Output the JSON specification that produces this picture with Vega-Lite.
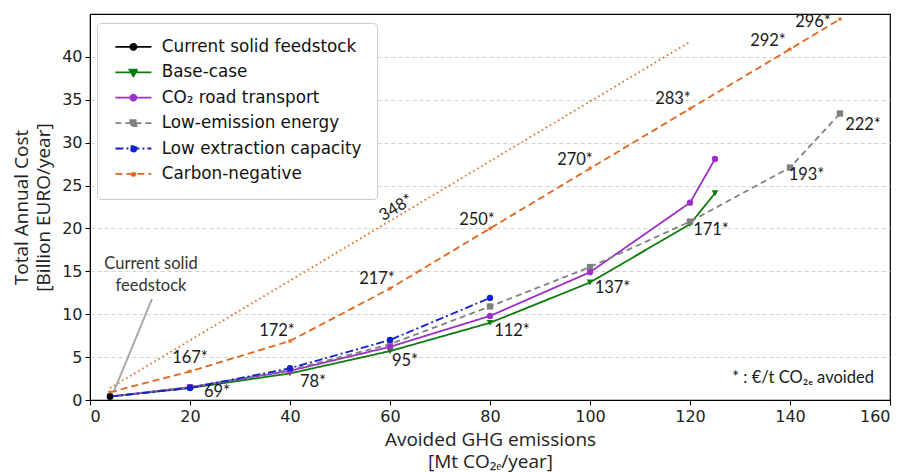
{
  "$schema": "https://vega.github.io/schema/vega-lite/v6.json",
  "width": 800,
  "height": 386,
  "autosize": {"type": "none"},
  "padding": {"left": 90, "top": 14, "right": 14, "bottom": 72},
  "background": "white",
  "config": {
    "view": {"stroke": "#000000", "strokeWidth": 1.2},
    "axis": {
      "labelFont": "DejaVu Sans",
      "labelFontSize": 16,
      "labelColor": "#222222",
      "titleFont": "Open Sans",
      "titleFontSize": 19,
      "titleFontWeight": "normal",
      "titleColor": "#222222",
      "titleLineHeight": 22,
      "tickColor": "#000000",
      "tickSize": 5,
      "domainColor": "#000000",
      "labelPadding": 3
    }
  },
  "data": {
    "values": [
      {"series": "Base-case", "x": 4, "y": 0.4},
      {"series": "Base-case", "x": 20, "y": 1.4},
      {"series": "Base-case", "x": 40, "y": 3.1},
      {"series": "Base-case", "x": 60, "y": 5.7},
      {"series": "Base-case", "x": 80, "y": 9.0},
      {"series": "Base-case", "x": 100, "y": 13.7},
      {"series": "Base-case", "x": 120, "y": 20.5},
      {"series": "Base-case", "x": 125, "y": 24.1},
      {"series": "CO₂ road transport", "x": 4, "y": 0.4},
      {"series": "CO₂ road transport", "x": 20, "y": 1.5},
      {"series": "CO₂ road transport", "x": 40, "y": 3.4},
      {"series": "CO₂ road transport", "x": 60, "y": 6.2},
      {"series": "CO₂ road transport", "x": 80, "y": 9.8},
      {"series": "CO₂ road transport", "x": 100, "y": 14.9},
      {"series": "CO₂ road transport", "x": 120, "y": 23.0},
      {"series": "CO₂ road transport", "x": 125, "y": 28.1},
      {"series": "Low-emission energy", "x": 4, "y": 0.4},
      {"series": "Low-emission energy", "x": 20, "y": 1.5},
      {"series": "Low-emission energy", "x": 40, "y": 3.5},
      {"series": "Low-emission energy", "x": 60, "y": 6.5},
      {"series": "Low-emission energy", "x": 80, "y": 10.9},
      {"series": "Low-emission energy", "x": 100, "y": 15.5},
      {"series": "Low-emission energy", "x": 120, "y": 20.8},
      {"series": "Low-emission energy", "x": 140, "y": 27.1},
      {"series": "Low-emission energy", "x": 150, "y": 33.4},
      {"series": "Low extraction capacity", "x": 4, "y": 0.4},
      {"series": "Low extraction capacity", "x": 20, "y": 1.4},
      {"series": "Low extraction capacity", "x": 40, "y": 3.7},
      {"series": "Low extraction capacity", "x": 60, "y": 7.0},
      {"series": "Low extraction capacity", "x": 80, "y": 11.9},
      {"series": "Carbon-negative", "x": 4, "y": 0.9},
      {"series": "Carbon-negative", "x": 20, "y": 3.34},
      {"series": "Carbon-negative", "x": 40, "y": 6.88},
      {"series": "Carbon-negative", "x": 60, "y": 13.0},
      {"series": "Carbon-negative", "x": 80, "y": 20.0},
      {"series": "Carbon-negative", "x": 100, "y": 27.0},
      {"series": "Carbon-negative", "x": 120, "y": 33.96},
      {"series": "Carbon-negative", "x": 140, "y": 40.9},
      {"series": "Carbon-negative", "x": 150, "y": 44.4},
      {"series": "Current solid feedstock", "x": 4, "y": 0.4}
    ]
  },
  "layer": [
    {
      "data": {"values": [{"x": 4, "y": 1.39}, {"x": 120, "y": 41.76}]},
      "mark": {"type": "line", "color": "#e2661a", "strokeWidth": 1.8, "strokeDash": [1.5, 3.2]},
      "encoding": {
        "x": {"field": "x", "type": "quantitative"},
        "y": {"field": "y", "type": "quantitative"}
      }
    },
    {
      "data": {"values": [{"x": 12.4, "y": 11.8, "x2": 4.7, "y2": 0.9}]},
      "mark": {"type": "rule", "color": "#aaaaaa", "strokeWidth": 2},
      "encoding": {
        "x": {"field": "x", "type": "quantitative"},
        "y": {"field": "y", "type": "quantitative"},
        "x2": {"field": "x2"},
        "y2": {"field": "y2"}
      }
    },
    {
      "mark": {"type": "line", "strokeWidth": 1.8},
      "encoding": {
        "x": {
          "field": "x", "type": "quantitative",
          "scale": {"domain": [0, 160], "nice": false},
          "axis": {"values": [0, 20, 40, 60, 80, 100, 120, 140, 160], "grid": false, "titlePadding": 6,
                   "title": ["Avoided GHG emissions", "[Mt CO₂ₑ/year]"]}
        },
        "y": {
          "field": "y", "type": "quantitative",
          "scale": {"domain": [0, 45], "nice": false},
          "axis": {"values": [0, 5, 10, 15, 20, 25, 30, 35, 40], "grid": true, "gridDash": [4, 3],
                   "gridColor": "#cccccc", "gridWidth": 0.9, "titlePadding": 8,
                   "title": ["Total Annual Cost", "[Billion EURO/year]"]}
        },
        "color": {
          "field": "series", "type": "nominal",
          "scale": {
            "domain": ["Current solid feedstock", "Base-case", "CO₂ road transport", "Low-emission energy", "Low extraction capacity", "Carbon-negative"],
            "range": ["#000000", "#0c7c0c", "#9b30c8", "#808080", "#1020d0", "#e2661a"]
          },
          "legend": {
            "title": null,
            "orient": "none",
            "legendX": 7,
            "legendY": 9,
            "padding": 15.5,
            "fillColor": "#ffffff",
            "strokeColor": "#cccccc",
            "cornerRadius": 4,
            "labelFont": "DejaVu Sans",
            "labelFontSize": 16.8,
            "labelColor": "#111111",
            "labelLimit": 400,
            "labelOffset": 20,
            "symbolOffset": 12.5,
            "symbolSize": 100,
            "symbolStrokeWidth": 1.8,
            "rowPadding": 7.4,
            "encode": {
              "symbols": {
                "update": {
                  "shape": {"signal": "datum.value === 'Base-case' ? 'M-3.6,0H3.6M-0.8,-0.55L0.8,-0.55L0,0.8Z' : datum.value === 'Low-emission energy' ? 'M-3.6,0H3.6M-0.6,-0.6H0.6V0.6H-0.6Z' : datum.value === 'Carbon-negative' ? 'M-3.6,0H3.6M0.4,0A0.4,0.4,0,1,1,-0.4,0A0.4,0.4,0,1,1,0.4,0Z' : 'M-3.6,0H3.6M0.6,0A0.6,0.6,0,1,1,-0.6,0A0.6,0.6,0,1,1,0.6,0Z'"},
                  "fill": {"signal": "scale('color', datum.value)"},
                  "size": {"value": 100}
                }
              }
            }
          }
        },
        "strokeDash": {
          "field": "series", "type": "nominal",
          "scale": {
            "domain": ["Current solid feedstock", "Base-case", "CO₂ road transport", "Low-emission energy", "Low extraction capacity", "Carbon-negative"],
            "range": [[1, 0], [1, 0], [1, 0], [6, 4], [8, 3, 2, 3], [7, 4]]
          }
        }
      }
    },
    {
      "transform": [{"filter": "datum.series === 'Base-case'"}],
      "mark": {"type": "point", "filled": true, "opacity": 1, "size": 45, "shape": "triangle-down"},
      "encoding": {
        "x": {"field": "x", "type": "quantitative"},
        "y": {"field": "y", "type": "quantitative"},
        "color": {"field": "series", "type": "nominal", "legend": null}
      }
    },
    {
      "transform": [{"filter": "datum.series === 'Low-emission energy'"}],
      "mark": {"type": "point", "filled": true, "opacity": 1, "size": 40, "shape": "square"},
      "encoding": {
        "x": {"field": "x", "type": "quantitative"},
        "y": {"field": "y", "type": "quantitative"},
        "color": {"field": "series", "type": "nominal", "legend": null}
      }
    },
    {
      "transform": [{"filter": "datum.series === 'Carbon-negative'"}],
      "mark": {"type": "point", "filled": true, "opacity": 1, "size": 35, "shape": "M0,-1L0.24,-0.33L0.95,-0.31L0.38,0.12L0.59,0.81L0,0.4L-0.59,0.81L-0.38,0.12L-0.95,-0.31L-0.24,-0.33Z"},
      "encoding": {
        "x": {"field": "x", "type": "quantitative"},
        "y": {"field": "y", "type": "quantitative"},
        "color": {"field": "series", "type": "nominal", "legend": null}
      }
    },
    {
      "transform": [{"filter": "datum.series === 'CO₂ road transport' || datum.series === 'Low extraction capacity' || datum.series === 'Current solid feedstock'"}],
      "mark": {"type": "point", "filled": true, "opacity": 1, "size": 40, "shape": "circle"},
      "encoding": {
        "x": {"field": "x", "type": "quantitative"},
        "y": {"field": "y", "type": "quantitative"},
        "color": {"field": "series", "type": "nominal", "legend": null}
      }
    },
    {
      "data": {
        "values": [
          {"x": 25.4, "y": 0.95, "t": "69*"},
          {"x": 44.6, "y": 2.1, "t": "78*"},
          {"x": 63, "y": 4.6, "t": "95*"},
          {"x": 84.4, "y": 8.0, "t": "112*"},
          {"x": 104.5, "y": 13.0, "t": "137*"},
          {"x": 124.2, "y": 19.8, "t": "171*"},
          {"x": 143.3, "y": 26.25, "t": "193*"},
          {"x": 154.6, "y": 32.1, "t": "222*"},
          {"x": 20, "y": 4.9, "t": "167*"},
          {"x": 37.4, "y": 8.1, "t": "172*"},
          {"x": 57.4, "y": 14.1, "t": "217*"},
          {"x": 77.4, "y": 21.0, "t": "250*"},
          {"x": 97, "y": 28.0, "t": "270*"},
          {"x": 116.6, "y": 35.1, "t": "283*"},
          {"x": 135.6, "y": 41.8, "t": "292*"},
          {"x": 144.6, "y": 44.1, "t": "296*"}
        ]
      },
      "mark": {"type": "text", "font": "Lato", "fontSize": 16.5, "color": "#1a1a1a", "align": "center", "baseline": "middle"},
      "encoding": {
        "x": {"field": "x", "type": "quantitative"},
        "y": {"field": "y", "type": "quantitative"},
        "text": {"field": "t"}
      }
    },
    {
      "data": {"values": [{"x": 61.2, "y": 22.4, "t": "348*"}]},
      "mark": {"type": "text", "font": "Lato", "fontSize": 16.5, "color": "#1a1a1a", "align": "center", "baseline": "middle", "angle": 329},
      "encoding": {
        "x": {"field": "x", "type": "quantitative"},
        "y": {"field": "y", "type": "quantitative"},
        "text": {"field": "t"}
      }
    },
    {
      "data": {"values": [{"x": 142.6, "y": 2.6, "t": "* : €/t CO₂ₑ avoided"}]},
      "mark": {"type": "text", "font": "Lato", "fontSize": 16.5, "color": "#1a1a1a", "align": "center", "baseline": "middle"},
      "encoding": {
        "x": {"field": "x", "type": "quantitative"},
        "y": {"field": "y", "type": "quantitative"},
        "text": {"field": "t"}
      }
    },
    {
      "data": {"values": [{"x": 12.2, "y": 15.8, "t": "Current solid\nfeedstock"}]},
      "mark": {"type": "text", "font": "Lato", "fontSize": 16.5, "color": "#333333", "align": "center", "baseline": "middle", "lineBreak": "\n", "lineHeight": 22},
      "encoding": {
        "x": {"field": "x", "type": "quantitative"},
        "y": {"field": "y", "type": "quantitative"},
        "text": {"field": "t"}
      }
    }
  ]
}
